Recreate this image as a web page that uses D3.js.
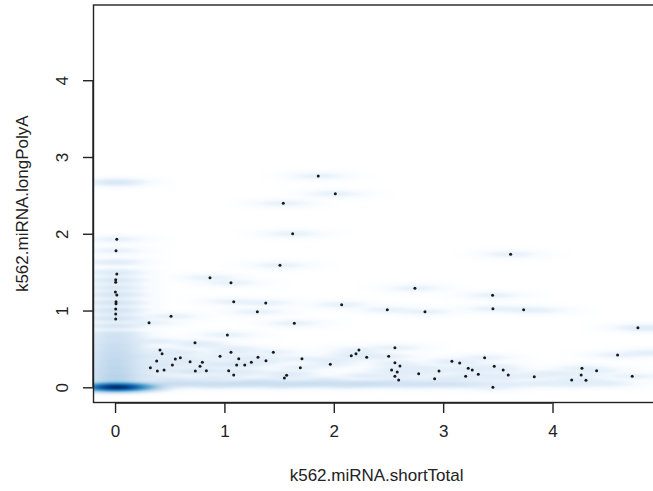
<!DOCTYPE html>
<html><head><meta charset="utf-8">
<script src="https://cdn.jsdelivr.net/npm/d3@7"></script>
<style>body{margin:0;background:#fff}svg{display:block}</style>
</head><body>
<svg id="chart" width="653" height="491"></svg>
<script>
// ---- data ----
const xLabel = "k562.miRNA.shortTotal";
const yLabel = "k562.miRNA.longPolyA";
const xTicks = [0, 1, 2, 3, 4];
const yTicks = [0, 1, 2, 3, 4];
// outlying points drawn as dots (x, y)
const pointsX = [1.538,0.016,0.009,1.508,0.016,0.006,0.006,0.868,1.060,0.003,0.016,0.009,0.009,1.085,1.378,0.006,1.301,0.006,0.512,0.006,0.311,1.027,0.731,0.411,0.430,1.060,1.447,0.381,0.551,0.597,0.686,0.960,1.131,0.798,0.323,0.524,0.777,1.246,1.307,1.380,1.186,1.112,0.448,0.387,0.734,0.835,1.039,1.085,1.569,1.548,
1.858,2.014,1.624,2.742,2.072,2.489,2.834,1.639,2.559,2.230,2.203,2.160,2.502,2.301,1.709,1.694,1.968,2.559,2.605,2.529,2.580,2.559,2.593,2.776,2.922,2.962,3.080,3.151,3.229,3.266,3.206,3.321,
3.617,3.452,3.455,3.736,4.781,4.595,3.379,3.467,3.549,3.595,3.833,4.269,4.403,4.262,4.175,4.306,4.729,3.455];
const pointsY = [2.396,1.927,1.779,1.589,1.475,1.40,1.37,1.427,1.362,1.241,1.202,1.115,1.089,1.115,1.098,1.020,0.984,0.954,0.924,0.889,0.841,0.681,0.581,0.486,0.438,0.456,0.456,0.342,0.368,0.385,0.333,0.404,0.372,0.326,0.255,0.290,0.273,0.326,0.391,0.346,0.290,0.290,0.225,0.212,0.212,0.216,0.216,0.160,0.156,0.121,
2.751,2.521,2.000,1.289,1.076,1.010,0.984,0.833,0.516,0.486,0.438,0.411,0.404,0.391,0.372,0.255,0.299,0.320,0.277,0.225,0.199,0.143,0.095,0.177,0.112,0.212,0.339,0.316,0.247,0.225,0.143,0.169,
1.732,1.198,1.023,1.010,0.776,0.421,0.385,0.273,0.225,0.160,0.138,0.247,0.216,0.160,0.095,0.091,0.143,0.000];
// dense (not drawn) bulk of the data, read as (x, y, weight)
const bulkX = [0,0.06,0.12,0.2,0.0,
 0,0,0,0,0,0,0,0,0,0,0,0,0,0,0,0,0,0,0,0,0,0,0,0,0.03,
 0.3,0.45,0.6,0.75,0.9,1.05,1.2,1.35,1.5,1.65,1.8,1.95,2.1,2.25,2.4,2.55,2.7,2.85,3.0,3.15,3.3,3.6,3.9,4.2,4.5,
 0.3,0.4,0.5,0.6,0.7,0.8,0.9,1.0,1.1,1.2,1.3,0.35,0.25,1.6,1.9,2.0,2.3,2.8,3.1,3.5,4.0,4.9,4.9,3.9];
const bulkY = [0,0.0,0.01,0.0,0.03,
 0.05,0.1,0.15,0.2,0.25,0.3,0.35,0.4,0.45,0.5,0.55,0.6,0.65,0.7,0.8,0.9,1.0,1.1,1.2,1.3,1.4,1.5,1.63,2.67,2.67,
 0.03,0.05,0.04,0.06,0.03,0.05,0.04,0.06,0.03,0.05,0.04,0.06,0.03,0.05,0.04,0.06,0.03,0.05,0.04,0.03,0.05,0.04,0.05,0.04,0.05,
 0.15,0.3,0.1,0.45,0.2,0.55,0.12,0.3,0.5,0.2,0.08,0.6,0.4,0.18,0.1,0.35,0.15,0.25,0.1,0.12,0.18,0.77,0.45,1.0];
const bulkW = [800,150,60,25,70,
 20,16,16,14,14,12,12,10,10,8,8,6,6,5,4,4,4,3,3,3,2,2,2,2,1.6,
 6,4.5,4.5,4.5,4.5,4.5,4.5,4.5,4.5,4.5,4.5,4.5,4.5,4.5,4.5,3,3,3,3,2,2,1.5,1.5,1.5,1.5,
 2,2,3,1.5,2,1.5,2,1.5,1.5,1.5,2,1.5,2,1.5,1.5,1.5,1.5,1.5,1.5,1.5,1.5,1.5,1.5,0.7];
const blues = ["#FFFFFF","#F7FBFF","#DEEBF7","#C6DBEF","#9ECAE1","#6BAED6","#4292C6","#2171B5","#08519C","#08306B"];

// ---- layout ----
const svg = d3.select("#chart");
const L = 93.5, R = 659.7, T = 5, B = 402.5;
const x = d3.scaleLinear().domain([-0.197, 4.98]).range([L, R]);
const y = d3.scaleLinear().domain([-0.198, 4.98]).range([B, T]);
const sx = 0.13, sy = 0.025;

// ---- density raster ----
const W = Math.ceil(R - L), H = Math.ceil(B - T);
const dens = new Float64Array(W * H);
function splat(px, py, w) {
  const cx = x(px) - L, cy = y(py) - T;
  const rx = 4 * sx * (x(1) - x(0)), ry = 4 * sy * (y(0) - y(1));
  const i0 = Math.max(0, Math.floor(cx - rx)), i1 = Math.min(W - 1, Math.ceil(cx + rx));
  const j0 = Math.max(0, Math.floor(cy - ry)), j1 = Math.min(H - 1, Math.ceil(cy + ry));
  for (let j = j0; j <= j1; j++) {
    const dy = (y.invert(j + T + 0.5) - py) / sy;
    const ey = Math.exp(-0.5 * dy * dy);
    for (let i = i0; i <= i1; i++) {
      const dx = (x.invert(i + L + 0.5) - px) / sx;
      dens[j * W + i] += w * ey * Math.exp(-0.5 * dx * dx);
    }
  }
}
pointsX.forEach((v, i) => splat(v, pointsY[i], 1));
bulkX.forEach((v, i) => splat(v, bulkY[i], bulkW[i]));
const maxD = d3.max(dens);
const ramp = d3.piecewise(d3.interpolateRgb, blues);
const cv = document.createElement("canvas");
cv.width = W; cv.height = H;
const ctx = cv.getContext("2d");
const img = ctx.createImageData(W, H);
for (let k = 0; k < W * H; k++) {
  const c = d3.rgb(ramp(Math.pow(dens[k] / maxD, 0.25)));
  img.data[4*k] = c.r; img.data[4*k+1] = c.g; img.data[4*k+2] = c.b; img.data[4*k+3] = 255;
}
ctx.putImageData(img, 0, 0);
svg.append("defs").append("clipPath").attr("id", "clip")
  .append("rect").attr("x", L).attr("y", T).attr("width", R - L).attr("height", B - T);
svg.append("image").attr("href", cv.toDataURL()).attr("x", L).attr("y", T)
  .attr("width", W).attr("height", H).attr("preserveAspectRatio", "none");

// points
svg.append("g").attr("clip-path", "url(#clip)").selectAll("circle")
  .data(pointsX.map((v, i) => [v, pointsY[i]]))
  .join("circle").attr("cx", d => x(d[0])).attr("cy", d => y(d[1]))
  .attr("r", 1.5).attr("fill", "#1a1a1a");

// box
svg.append("rect").attr("x", L).attr("y", T).attr("width", R - L).attr("height", B - T)
  .attr("fill", "none").attr("stroke", "#222").attr("stroke-width", 1.4);

const font = "Liberation Sans, Arial, Helvetica, sans-serif";
// x axis
const xa = svg.append("g").attr("transform", `translate(0,${B})`)
  .call(d3.axisBottom(x).tickValues(xTicks).tickSize(10.5).tickPadding(12).tickFormat(d3.format("d")));
xa.select(".domain").attr("d", `M${x(0)},0.5H${x(4)}`).attr("stroke", "#222").attr("stroke-width", 1.4);
xa.selectAll(".tick line").attr("stroke", "#222").attr("stroke-width", 1.4);
xa.selectAll("text").attr("font-family", font).attr("font-size", 17).attr("fill", "#222");
// y axis
const ya = svg.append("g").attr("transform", `translate(${L},0)`)
  .call(d3.axisLeft(y).tickValues(yTicks).tickSize(10.5).tickFormat(d3.format("d")));
ya.select(".domain").attr("d", `M-0.5,${y(0)}V${y(4)}`).attr("stroke", "#222").attr("stroke-width", 1.4);
ya.selectAll(".tick line").attr("stroke", "#222").attr("stroke-width", 1.4);
ya.selectAll(".tick text").attr("x", null).attr("dy", null)
  .attr("transform", "translate(-31.5,0) rotate(-90)")
  .attr("text-anchor", "middle").attr("dominant-baseline", "central")
  .attr("font-family", font).attr("font-size", 17).attr("fill", "#222");

svg.append("text").attr("x", (L + R) / 2).attr("y", 475).attr("text-anchor", "middle")
  .attr("dominant-baseline", "central").attr("font-family", font).attr("font-size", 17)
  .attr("fill", "#222").text(xLabel);
svg.append("text").attr("transform", `translate(22,${(T + B) / 2}) rotate(-90)`)
  .attr("text-anchor", "middle").attr("dominant-baseline", "central")
  .attr("font-family", font).attr("font-size", 17).attr("fill", "#222").text(yLabel);
</script>
</body></html>
